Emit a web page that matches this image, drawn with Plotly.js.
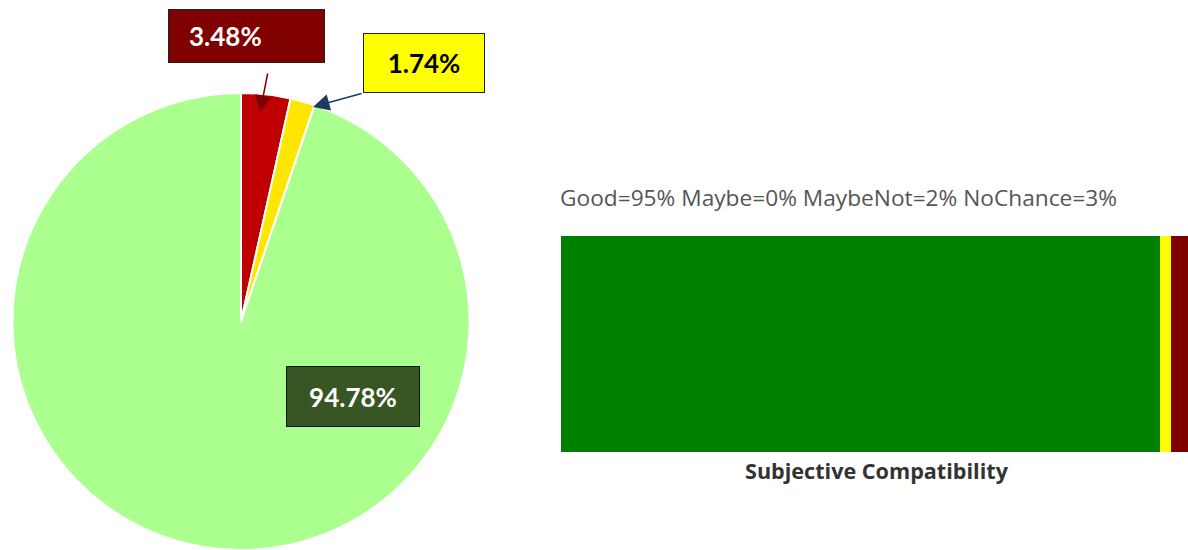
<!DOCTYPE html>
<html>
<head>
<meta charset="utf-8">
<script src="https://cdn.plot.ly/plotly-3.0.1.min.js"></script>
<style>html,body{margin:0;padding:0;background:#fff;}#chart{width:1188px;height:550px;}</style>
</head>
<body>
<div id="chart"></div>
<script>
// Pie data (clockwise from 12 o'clock)
const pieLabels = ['NoChance', 'MaybeNot', 'Good'];
const pieValues = [3.48, 1.74, 94.78];
const pieColors = ['#C00000', '#FFE600', '#AAFF8F'];

// Stacked bar data
const barCategory = ['Subjective Compatibility'];
const barSeries = ['Good', 'Maybe', 'MaybeNot', 'NoChance'];
const barValues = [94.78, 0, 1.74, 3.48];
const barColors = ['#008000', '#FFA500', '#FFFF00', '#800000'];

const W = 1188, H = 550;
const px = x => x / W;
const py = y => 1 - y / H;

const traces = [{
  type: 'pie',
  labels: pieLabels,
  values: pieValues,
  sort: false,
  direction: 'clockwise',
  rotation: 0,
  marker: {colors: pieColors, line: {color: '#ffffff', width: 2}},
  textinfo: 'none',
  hoverinfo: 'label+percent',
  showlegend: false,
  domain: {x: [px(12), px(470)], y: [0, py(93)]}
}];

barSeries.forEach((s, i) => {
  traces.push({
    type: 'bar',
    orientation: 'h',
    name: s,
    y: barCategory,
    x: [barValues[i]],
    marker: {color: barColors[i], line: {width: 0}},
    xaxis: 'x',
    yaxis: 'y',
    showlegend: false,
    hoverinfo: 'name+x'
  });
});

const pct = v => v.toFixed(2) + '%';
const summary = barSeries.map((s, i) => s + '=' + Math.round(barValues[i]) + '%').join(' ');

const boxFont = {family: 'Lato, "Open Sans", sans-serif', size: 26};

const annotations = [
  // 3.48% label box (text left-aligned)
  {xref: 'paper', yref: 'paper', x: px(246.5), y: py(36), xanchor: 'center', yanchor: 'middle',
   text: '&nbsp;&nbsp;&nbsp;<b>' + pct(pieValues[0]) + '</b>', showarrow: false,
   font: Object.assign({}, boxFont, {color: '#ffffff'}),
   bgcolor: '#800000', bordercolor: '#222222', borderwidth: 1, borderpad: 0,
   width: 155, height: 52, align: 'left', valign: 'middle'},
  // red arrow
  {xref: 'paper', yref: 'paper', x: px(260), y: py(112), text: '', showarrow: true,
   ax: 8, ay: -40, arrowhead: 2, arrowsize: 2.2, arrowwidth: 1.5, arrowcolor: '#7F0000'},
  // 1.74% label box
  {xref: 'paper', yref: 'paper', x: px(424), y: py(63), xanchor: 'center', yanchor: 'middle',
   text: '<b>' + pct(pieValues[1]) + '</b>', showarrow: false,
   font: Object.assign({}, boxFont, {color: '#000000'}),
   bgcolor: '#FFFF00', bordercolor: '#222222', borderwidth: 1, borderpad: 0,
   width: 120, height: 58, align: 'center'},
  // blue arrow
  {xref: 'paper', yref: 'paper', x: px(313), y: py(107), text: '', showarrow: true,
   ax: 50, ay: -14, arrowhead: 2, arrowsize: 2.2, arrowwidth: 1.5, arrowcolor: '#1F3864'},
  // 94.78% label box
  {xref: 'paper', yref: 'paper', x: px(353), y: py(396), xanchor: 'center', yanchor: 'middle',
   text: '<b>' + pct(pieValues[2]) + '</b>', showarrow: false,
   font: Object.assign({}, boxFont, {color: '#ffffff'}),
   bgcolor: '#375623', bordercolor: '#111111', borderwidth: 1, borderpad: 0,
   width: 132, height: 59, align: 'center'},
  // summary text
  {xref: 'paper', yref: 'paper', x: px(558), y: py(197), xanchor: 'left', yanchor: 'middle',
   text: summary, showarrow: false,
   font: {family: '"Open Sans", sans-serif', size: 22.7, color: '#555555'}},
  // category label below bar
  {xref: 'paper', yref: 'paper', x: px(877), y: py(470), xanchor: 'center', yanchor: 'middle',
   text: '<b>' + barCategory[0] + '</b>', showarrow: false,
   font: {family: '"Open Sans", sans-serif', size: 21.6, color: '#333333'}}
];

const layout = {
  width: W, height: H,
  margin: {l: 0, r: 0, t: 0, b: 0},
  paper_bgcolor: '#ffffff', plot_bgcolor: '#ffffff',
  barmode: 'stack', bargap: 0,
  showlegend: false,
  xaxis: {domain: [px(561), 1], range: [0, 99.2], visible: false, fixedrange: true},
  yaxis: {domain: [py(452), py(236)], range: [-0.5, 0.5], visible: false, fixedrange: true},
  annotations: annotations
};

Plotly.newPlot('chart', traces, layout, {displayModeBar: false, staticPlot: true});
</script>
</body>
</html>
